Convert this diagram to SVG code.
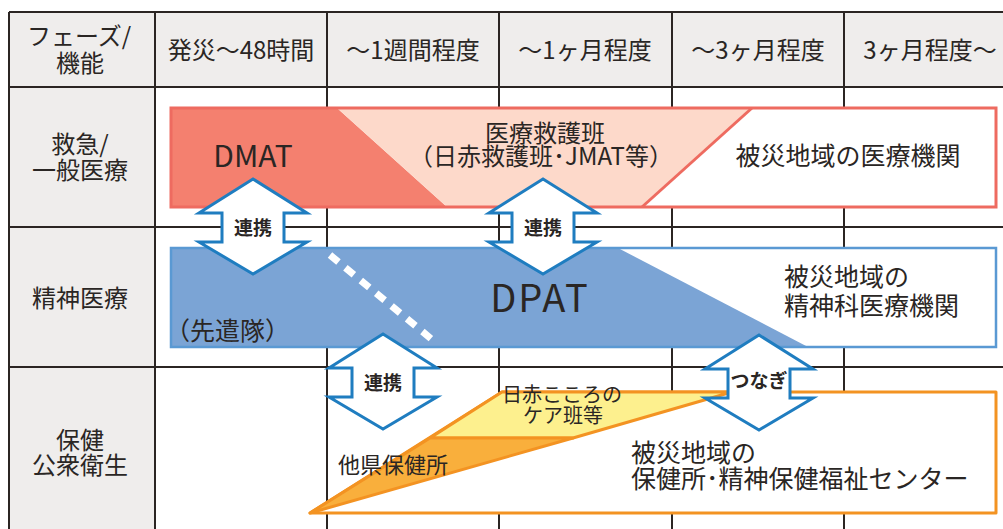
<svg xmlns="http://www.w3.org/2000/svg" xmlns:xlink="http://www.w3.org/1999/xlink" width="1003" height="529" viewBox="0 0 1003 529">
<style>
text{font-family:"Noto Sans CJK JP","Noto Sans",sans-serif;fill:#2a2624;}
.hdr{font-size:24px;text-anchor:middle;}
.lbl{font-size:25px;}
.arw{fill:#ffffff;stroke:#1f7dc0;stroke-width:3;stroke-linejoin:miter;}
.arwt{font-size:19px;font-weight:bold;text-anchor:middle;}
.grid{stroke:#2b2523;stroke-width:2;fill:none;}
.red{stroke:#ee6b60;stroke-width:3;}
.blue{stroke:#5a99d3;stroke-width:2.5;}
.org{stroke:#f39322;stroke-width:3;stroke-linejoin:round;}
</style>
<defs>
<path id="dbl" d="M0,0 L54,34 L31,34 L31,63 L54,63 L0,95 L-54,63 L-31,63 L-31,34 L-54,34 Z"/>
</defs>
<rect width="1003" height="529" fill="#ffffff"/>
<g id="grid">
<rect x="9" y="12" width="994" height="75" fill="#efedec"/>
<rect x="9" y="87" width="146" height="442" fill="#efedec"/>
<path class="grid" d="M9,12H1003M9,87H1003M9,227H1003M9,367H1003M9,12V529M155,12V529M327,12V529M499,12V529M672,12V529M844,12V529"/>
</g>
<g id="header">
<text class="hdr"><tspan x="79" y="45">フェーズ/</tspan><tspan x="80" y="72">機能</tspan></text>
<text class="hdr" x="241" y="59">発災～48時間</text>
<text class="hdr" x="413" y="59">～1週間程度</text>
<text class="hdr" x="585" y="59">～1ヶ月程度</text>
<text class="hdr" x="758" y="59">～3ヶ月程度</text>
<text class="hdr" x="930" y="59">3ヶ月程度～</text>
</g>
<g id="rowlabels">
<text class="hdr"><tspan x="80" y="153">救急/</tspan><tspan x="80" y="179">一般医療</tspan></text>
<text class="hdr" x="80" y="307">精神医療</text>
<text class="hdr"><tspan x="80" y="449">保健</tspan><tspan x="80" y="474">公衆衛生</tspan></text>
</g>
<g id="emergency">
<polygon points="171,108 337,108 447,207 171,207" fill="#f4806f"/>
<polygon points="337,108 752,108 642,207 447,207" fill="#fdd9ca"/>
<polygon points="752,108 996,108 996,207 642,207" fill="#ffffff"/>
<line class="red" x1="752" y1="108" x2="642" y2="207"/>
<rect class="red" x="171" y="108" width="825" height="99" fill="none"/>
<text x="253" y="167" font-size="30" text-anchor="middle">DMAT</text>
<text font-size="24" text-anchor="middle"><tspan x="545" y="142">医療救護班</tspan><tspan x="541" y="165">（日赤救護班･JMAT等）</tspan></text>
<text class="lbl" x="848" y="165" text-anchor="middle">被災地域の医療機関</text>
</g>
<g id="psychiatry">
<rect x="171" y="248" width="825" height="99" fill="#ffffff"/>
<polygon points="171,248 618,248 808,347 171,347" fill="#7ba4d5"/>
<rect class="blue" x="171" y="248" width="825" height="99" fill="none"/>
<line x1="330" y1="255" x2="435" y2="342" stroke="#ffffff" stroke-width="7" stroke-dasharray="11 9"/>
<text x="540" y="312" font-size="38" letter-spacing="2" text-anchor="middle">DPAT</text>
<text x="165" y="340" font-size="25">（先遣隊）</text>
<text class="lbl"><tspan x="784" y="286">被災地域の</tspan><tspan x="784" y="315">精神科医療機関</tspan></text>
</g>
<g id="publichealth">
<polygon class="org" points="310,513 502,392 996,392 996,513" fill="#ffffff"/>
<polygon class="org" points="430,438 502,392 732,392 573,438" fill="#fdf08e"/>
<polygon class="org" points="310,513 430,438 573,438" fill="#f9af3c"/>
<text font-size="20" text-anchor="middle"><tspan x="562" y="402">日赤こころの</tspan><tspan x="563" y="423">ケア班等</tspan></text>
<text x="338" y="473" font-size="22">他県保健所</text>
<text class="lbl"><tspan x="631" y="462">被災地域の</tspan><tspan x="631" y="488">保健所･精神保健福祉センター</tspan></text>
</g>
<g id="connectors">
<use xlink:href="#dbl" class="arw" x="253" y="179"/>
<use xlink:href="#dbl" class="arw" x="543" y="179"/>
<use xlink:href="#dbl" class="arw" x="383" y="334"/>
<use xlink:href="#dbl" class="arw" x="759" y="335"/>
<text class="arwt" x="253" y="235">連携</text>
<text class="arwt" x="543" y="235">連携</text>
<text class="arwt" x="383" y="390">連携</text>
<text class="arwt" x="759" y="388">つなぎ</text>
</g>
</svg>
